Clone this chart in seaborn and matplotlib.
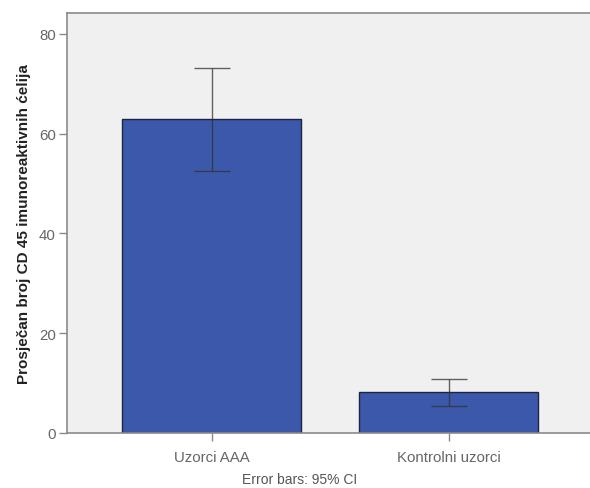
import numpy as np
import pandas as pd
import matplotlib.pyplot as plt
import seaborn as sns

groups = ["Uzorci AAA", "Kontrolni uzorci"]
means = [62.9, 8.2]
ci_low = [52.6, 5.5]
ci_high = [73.2, 10.8]

df = pd.DataFrame({"grupa": groups, "mean": means})

sns.set_style("white")
plt.rcParams['font.family'] = ['Liberation Sans', 'DejaVu Sans']

fig = plt.figure(figsize=(5.9, 4.89), dpi=100)
ax = fig.add_axes([67/590, 55/489, 1 - 67/590, (434 - 14)/489])
ax.set_facecolor("#f0f0f0")

sns.barplot(data=df, x="grupa", y="mean", color="#3c58aa", saturation=1,
            errorbar=None, width=0.755, edgecolor="#1c2440", linewidth=1.0, ax=ax)

x = np.arange(len(groups))
yerr = [np.array(means) - np.array(ci_low), np.array(ci_high) - np.array(means)]
ax.errorbar(x, means, yerr=yerr, fmt="none", ecolor="#303030", elinewidth=1.0,
            capsize=13, capthick=1.0, alpha=0.75)

ax.set_xlim(-0.61, 1.597)
ax.set_ylim(0, 84.2)
ax.set_yticks([0, 20, 40, 60, 80])
ax.set_xlabel("")
ax.set_ylabel("Prosječan broj CD 45 imunoreaktivnih ćelija", fontsize=11,
              fontweight="bold", color="#222222", labelpad=6)

for side in ["left", "top", "bottom"]:
    ax.spines[side].set_color("#8a8a8a")
    ax.spines[side].set_linewidth(1.2)
ax.spines["right"].set_visible(False)

ax.tick_params(axis="both", direction="out", length=6, width=1, color="#8a8a8a",
               labelsize=10.8, labelcolor="#666666", left=True, bottom=True)
ax.tick_params(axis="x", pad=6)
ax.tick_params(axis="y", pad=2)

fig.text(300/590, 1 - 480/489, "Error bars: 95% CI", ha="center", va="center",
         fontsize=10, color="#555555")

plt.savefig("out.png", dpi=100)
